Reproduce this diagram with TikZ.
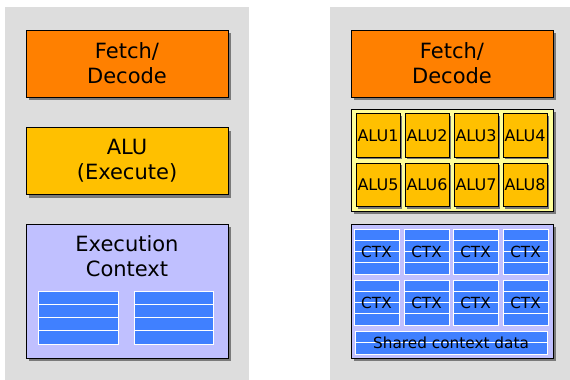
\documentclass[tikz,border=0pt]{standalone}
\usepackage{fontspec}
\setmainfont{DejaVu Sans}
\usetikzlibrary{shadows}
\definecolor{panelgray}{HTML}{DDDDDD}
\definecolor{fetchorange}{HTML}{FF8000}
\definecolor{aluyellow}{HTML}{FFC000}
\definecolor{alupale}{HTML}{FFFF99}
\definecolor{ctxlav}{HTML}{C0C0FF}
\definecolor{regblue}{HTML}{4080FF}
\definecolor{shadowgray}{HTML}{7A7A7A}
\begin{document}
\begin{tikzpicture}[x=1pt,y=-1pt,
  unit/.style={draw=black, line width=1pt, inner sep=0pt, align=center,
    drop shadow={shadow xshift=3pt, shadow yshift=-3pt, fill=shadowgray, opacity=1}},
  bigbox/.style={unit, minimum width=202pt, minimum height=67pt,
    font=\fontsize{21}{25}\selectfont},
  alucell/.style={draw=black, line width=0.8pt, fill=aluyellow, inner sep=0pt,
    minimum width=44pt, minimum height=43.5pt, font=\fontsize{16}{19}\selectfont,
    drop shadow={shadow xshift=2pt, shadow yshift=-2pt, fill=shadowgray, opacity=1}},
  reg/.style={fill=regblue, draw=white, line width=0.8pt},
  small/.style={font=\fontsize{15.3}{18}\selectfont, inner sep=0pt}]
\useasboundingbox (0,0) rectangle (570,380);

% background panels
\fill[panelgray] (5,7) rectangle (249,380);
\fill[panelgray] (330,7) rectangle (570,380);

% ---- single core ----
\node[bigbox, fill=fetchorange] (fd1) at (127,63.5) {Fetch/\\Decode};
\node[bigbox, fill=aluyellow] (alu) at (127,161) {ALU\\(Execute)};
\node[unit, fill=ctxlav, minimum width=202pt, minimum height=134pt] (ctx1) at (127,291) {};
\node[font=\fontsize{21}{25}\selectfont, align=center, inner sep=0pt] (ctxlabel) at (127,256) {Execution\\Context};
\foreach \xa/\xb in {38/118, 134/213}
  \foreach \i in {0,...,3}
    \draw[reg] (\xa,291+13.25*\i) rectangle (\xb,291+13.25*\i+13.25);

% ---- many ALUs ----
\node[bigbox, fill=fetchorange] (fd2) at (452,63.5) {Fetch/\\Decode};
\node[unit, fill=alupale, minimum width=202pt, minimum height=102pt] (alus) at (452,160) {};
\foreach \k/\cx in {1/378, 2/427, 3/476, 4/525} {
  \node[alucell] (a\k) at (\cx,135.5) {ALU\k};
}
\foreach \k/\cx in {5/378, 6/427, 7/476, 8/525} {
  \node[alucell] (a\k) at (\cx,185) {ALU\k};
}

\node[unit, fill=ctxlav, minimum width=202pt, minimum height=134pt] (ctx2) at (452,291) {};
\foreach \r/\ya in {1/229, 2/280}
  \foreach \c/\xa in {1/354, 2/404, 3/453, 4/503} {
    \foreach \i in {0,...,3}
      \draw[reg] (\xa,\ya+11.25*\i) rectangle (\xa+45,\ya+11.25*\i+11.25);
    \node[small] (ctx\r\c) at (\xa+22.5,\ya+22.5) {CTX};
  }
\foreach \i in {0,1}
  \draw[reg] (355,331+11.5*\i) rectangle (547,331+11.5*\i+11.5);
\node[small] (shared) at (451,343) {Shared context data};
\end{tikzpicture}
\end{document}
